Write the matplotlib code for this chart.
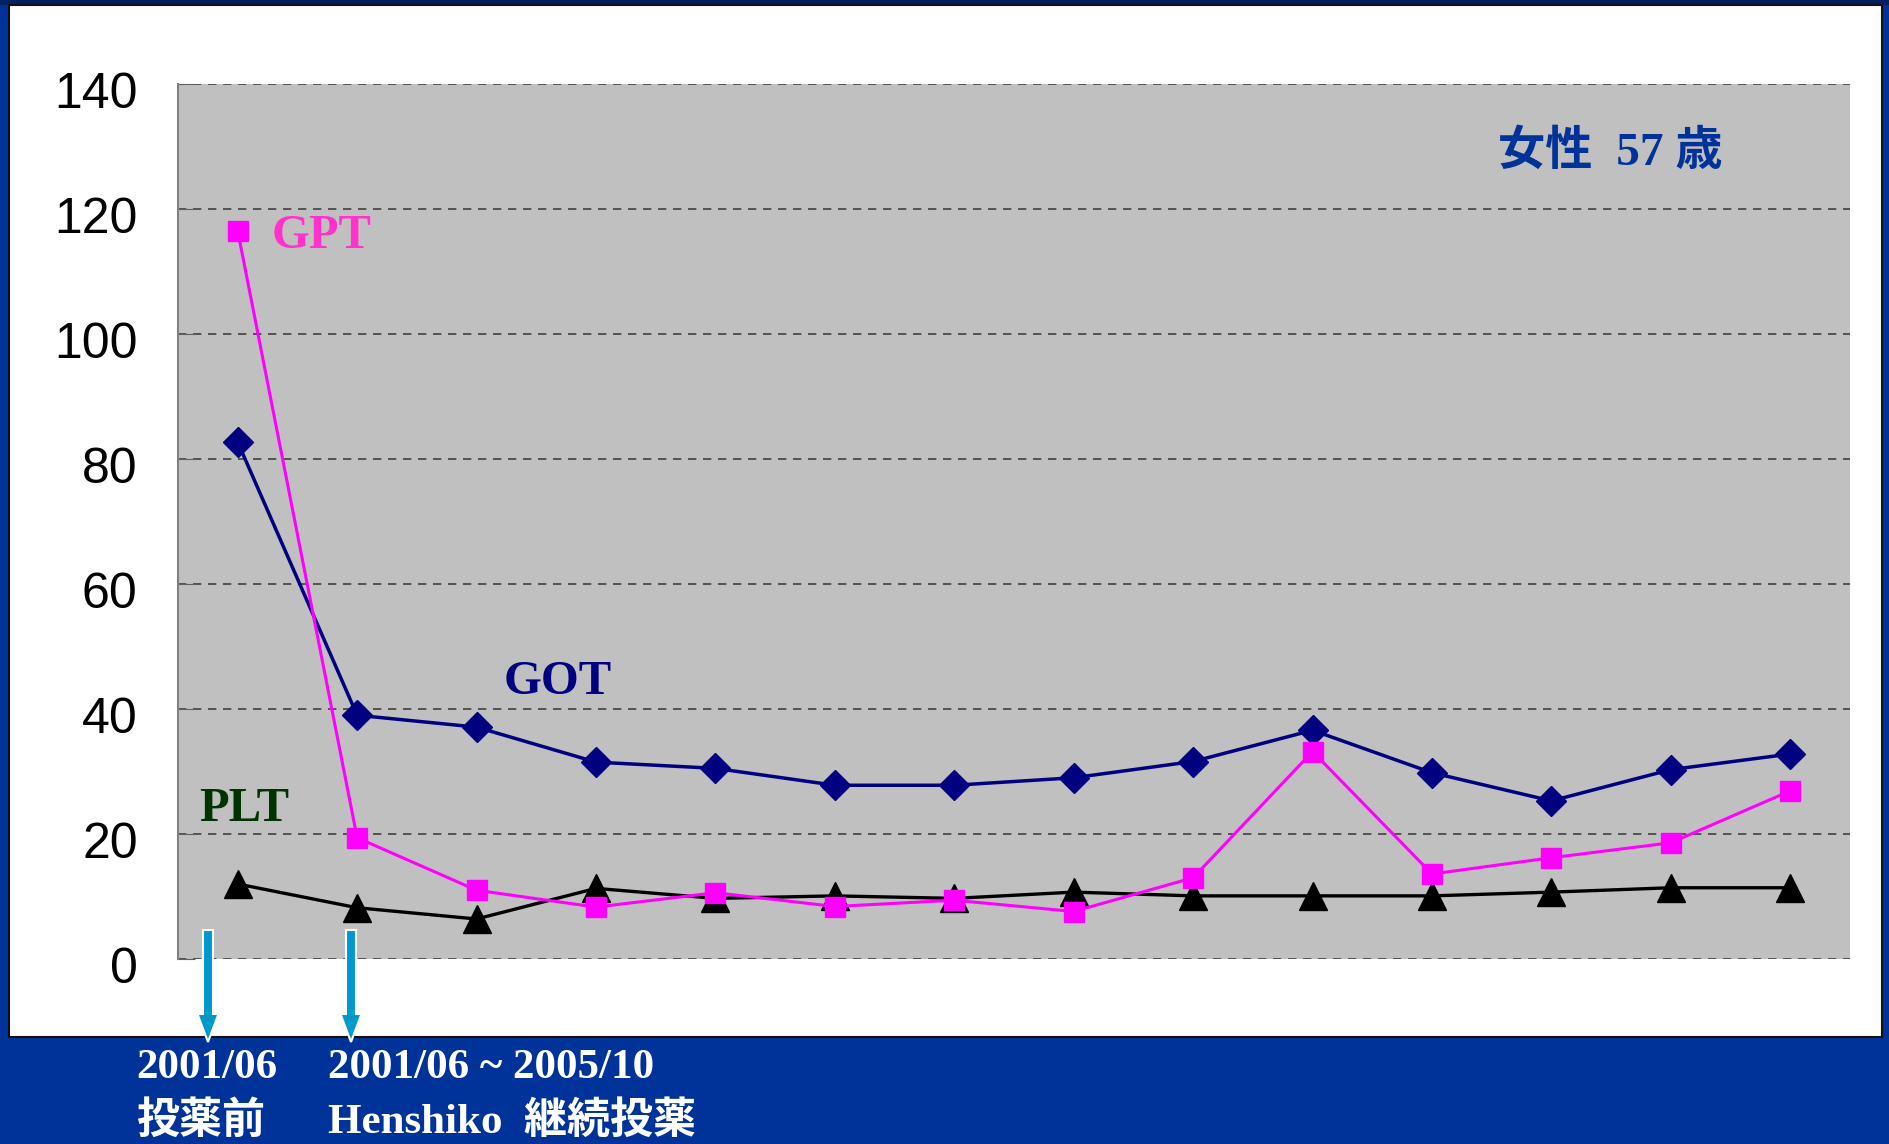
import matplotlib
matplotlib.use("Agg")
import matplotlib.pyplot as plt
import matplotlib.transforms as mtransforms
from matplotlib.patches import Rectangle, FancyArrow

# ---- data ----
points = list(range(14))
got = [82.7, 39.0, 37.1, 31.5, 30.5, 27.8, 27.8, 29.0, 31.6, 36.6, 29.8, 25.3, 30.3, 32.8]
gpt = [116.5, 19.4, 11.0, 8.3, 10.6, 8.4, 9.4, 7.6, 13.0, 33.2, 13.6, 16.2, 18.6, 26.9]
plt_vals = [12.0, 8.2, 6.4, 11.3, 9.7, 10.1, 9.7, 10.7, 10.1, 10.1, 10.1, 10.7, 11.4, 11.4]
yticks = [0, 20, 40, 60, 80, 100, 120, 140]
series_labels = ["GPT", "GOT", "PLT"]
title_text = "女性  57 歳"
bottom_left = ["2001/06", "投薬前"]
bottom_right = ["2001/06 ~ 2005/10", "Henshiko  継続投薬"]

serif_cjk = ["Liberation Serif", "Noto Sans CJK JP", "DejaVu Sans"]

W, H = 1890, 1144
fig = plt.figure(figsize=(W / 100, H / 100), dpi=100, facecolor="#003399")

# white panel
fig.add_artist(Rectangle((9 / W, 1 - 1037 / H), (1882 - 9) / W, (1037 - 5) / H,
                         transform=fig.transFigure, facecolor="white",
                         edgecolor="#111111", linewidth=1.5, zorder=-10))
fig.add_artist(Rectangle((0, 1 - 5 / H), 1, 5 / H, transform=fig.transFigure,
                         facecolor="#002060", edgecolor="none", zorder=-11))

ax = fig.add_axes([178 / W, 1 - 959 / H, (1850 - 178) / W, (959 - 84) / H])
ax.set_facecolor("#C0C0C0")
ax.set_xlim(-0.5, 13.5)
ax.set_ylim(0, 140)
for s in ["top", "right", "bottom"]:
    ax.spines[s].set_visible(False)
ax.spines["left"].set_color("#808080")
ax.spines["left"].set_linewidth(1.5)
ax.set_xticks([])
ax.set_yticks(yticks)
ax.tick_params(axis="y", direction="in", length=12, color="#606060", pad=29,
               labelsize=36)
shift = mtransforms.ScaledTranslation(0, -6 / 100, fig.dpi_scale_trans)
for lab in ax.get_yticklabels():
    lab.set_fontfamily("Liberation Sans")
    lab.set_transform(lab.get_transform() + shift)
for v in yticks:
    ax.axhline(v, color="#404040", linestyle=(0, (5, 4)), linewidth=1.2, zorder=1)

ax.plot(points, plt_vals, color="black", linewidth=2.4, marker="^",
        markersize=20, zorder=3, clip_on=False)
ax.plot(points, got, color="#000080", linewidth=2.5, marker="D",
        markersize=15, zorder=4, clip_on=False)
ax.plot(points, gpt, color="#FF00FF", linewidth=2.2, marker="s",
        markersize=15, zorder=5, clip_on=False)

ax.text(0.28, 115.7, series_labels[0], color="#FF33CC", fontsize=35,
        fontweight="bold", family="Liberation Serif", va="center", ha="left")
ax.text(2.23, 44.3, series_labels[1], color="#000080", fontsize=35,
        fontweight="bold", family="Liberation Serif", va="center", ha="left")
ax.text(-0.32, 24.0, series_labels[2], color="#003300", fontsize=35,
        fontweight="bold", family="Liberation Serif", va="center", ha="left")
ax.text(10.55, 129, title_text, color="#003399", fontsize=34,
        fontweight="bold", family=serif_cjk, va="center", ha="left")

# arrows
for xp in (208, 351):
    fig.add_artist(FancyArrow(xp / W, 1 - 930 / H, 0, -(1042 - 930) / H,
                              width=10 / W, head_width=21 / W, head_length=28 / H,
                              length_includes_head=True, transform=fig.transFigure,
                              facecolor="#0099CC", edgecolor="white",
                              linewidth=1.5, zorder=10))

# bottom text
for txt, x, y in [(bottom_left[0], 136, 1068), (bottom_left[1], 136, 1121),
                  (bottom_right[0], 328, 1068), (bottom_right[1], 328, 1121)]:
    fig.text(x / W, 1 - y / H, txt, color="white", fontsize=31,
             fontweight="bold", family=serif_cjk, va="center", ha="left")

fig.savefig("out.png", dpi=100, facecolor=fig.get_facecolor())
